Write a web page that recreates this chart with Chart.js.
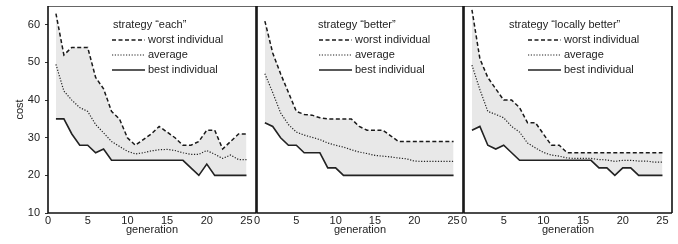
<!DOCTYPE html>
<html>
<head>
<meta charset="utf-8">
<script src="https://cdn.jsdelivr.net/npm/chart.js@4/dist/chart.umd.min.js"></script>
<style>
  html, body { margin: 0; padding: 0; background: #fff; }
  #wrap { position: relative; width: 678px; height: 244px; overflow: hidden; }
  canvas { position: absolute; top: 0; }
</style>
</head>
<body>
<div id="wrap">
  <canvas id="c1" width="262" height="244" style="left:0px"></canvas>
  <canvas id="c2" width="224" height="244" style="left:246px"></canvas>
  <canvas id="c3" width="225" height="244" style="left:453px"></canvas>
</div>
<script>
// data
const generations = [1, 2, 3, 4, 5, 6, 7, 8, 9, 10, 11, 12, 13, 14, 15, 16, 17, 18, 19, 20, 21, 22, 23, 24, 25];
const xTicks = [0, 5, 10, 15, 20, 25];
const yTicks = [10, 20, 30, 40, 50, 60];
const seriesNames = ['worst individual', 'average', 'best individual'];
const strategies = ['strategy \u201ceach\u201d', 'strategy \u201cbetter\u201d', 'strategy \u201clocally better\u201d'];

const eachWorst = [63, 52, 54, 54, 54, 46, 43, 37, 35, 30, 28, 29.5, 31, 33, 31.5, 30, 28, 28, 29, 32, 32, 27, 29, 31, 31];
const eachAvg = [49.5, 42.4, 40, 38, 37, 33.5, 31.3, 29, 27.7, 26.4, 25.7, 26, 26.5, 26.8, 26.9, 26.6, 26, 25.6, 25.6, 26.6, 25.6, 24.5, 25.4, 24.2, 24.2];
const eachBest = [35, 35, 31, 28, 28, 26, 27, 24, 24, 24, 24, 24, 24, 24, 24, 24, 24, 22, 20, 23, 20, 20, 20, 20, 20];

const betterWorst = [61, 52.5, 47, 42, 37, 36.2, 36, 35.3, 35, 35, 35, 35, 33, 32, 32, 32, 30.5, 29, 29, 29, 29, 29, 29, 29, 29];
const betterAvg = [47, 42, 36.6, 33.5, 31.5, 30.7, 30.1, 29.5, 28.6, 28, 27.5, 26.8, 26.2, 25.8, 25.3, 25.1, 24.9, 24.6, 24.4, 23.8, 23.7, 23.7, 23.7, 23.7, 23.7];
const betterBest = [34, 33, 30, 28, 28, 26, 26, 26, 22, 22, 20, 20, 20, 20, 20, 20, 20, 20, 20, 20, 20, 20, 20, 20, 20];

const localWorst = [64, 51, 46, 43, 40, 40, 38, 34, 34, 31, 28, 28, 26, 26, 26, 26, 26, 26, 26, 26, 26, 26, 26, 26, 26];
const localAvg = [49.3, 42.8, 37, 36.2, 35.3, 33, 31.5, 28.6, 27.3, 26.1, 25.4, 25.1, 24.6, 24.5, 24.5, 24.5, 24.2, 24.1, 23.7, 24, 24, 23.8, 23.8, 23.5, 23.5];
const localBest = [32, 33, 28, 27, 28, 26, 24, 24, 24, 24, 24, 24, 24, 24, 24, 24, 22, 22, 20, 22, 22, 20, 20, 20, 20];

Chart.defaults.font.family = '"Liberation Sans", Arial, sans-serif';
Chart.defaults.font.size = 11;
Chart.defaults.color = '#222';

const FONT = '11px "Liberation Sans", Arial, sans-serif';

// box round each panel
const panelFrame = {
  id: 'panelFrame',
  afterDraw(chart) {
    const { ctx, chartArea: a } = chart;
    ctx.save();
    ctx.strokeStyle = '#666';
    ctx.lineWidth = 1;
    ctx.beginPath();
    ctx.moveTo(a.left, a.top + 0.5);
    ctx.lineTo(a.right, a.top + 0.5);
    ctx.stroke();
    ctx.strokeStyle = '#111';
    ctx.lineWidth = 1.6;
    ctx.beginPath();
    ctx.moveTo(a.left, a.top);
    ctx.lineTo(a.left, a.bottom);
    ctx.lineTo(a.right, a.bottom);
    ctx.stroke();
    ctx.beginPath();
    ctx.moveTo(a.right, a.top);
    ctx.lineTo(a.right, a.bottom);
    ctx.stroke();
    ctx.restore();
  }
};

// legend drawn inside the plot, title + three line samples
const panelLegend = {
  id: 'panelLegend',
  afterDraw(chart, args, opts) {
    const { ctx, chartArea: a } = chart;
    ctx.save();
    ctx.font = FONT;
    ctx.fillStyle = '#222';
    ctx.textBaseline = 'middle';
    ctx.fillText(opts.title, a.left + opts.titleX, 25);
    chart.data.datasets.forEach((ds, i) => {
      const y = 40 + i * 15;
      const x0 = a.left + opts.lineX;
      ctx.strokeStyle = ds.borderColor;
      ctx.lineWidth = ds.borderWidth;
      ctx.setLineDash(ds.borderDash || []);
      ctx.beginPath();
      ctx.moveTo(x0, y);
      ctx.lineTo(x0 + 33, y);
      ctx.stroke();
      ctx.setLineDash([]);
      ctx.fillText(ds.label, x0 + 36, y);
    });
    ctx.restore();
  }
};

function points(values) {
  return generations.map((g, i) => ({ x: g, y: values[i] }));
}

function makePanel(id, idx, worst, avg, best, showY, padding, legendPos) {
  return new Chart(document.getElementById(id), {
    type: 'line',
    data: {
      datasets: [
        {
          label: seriesNames[0],
          data: points(worst),
          borderColor: '#1a1a1a',
          borderWidth: 1.5,
          borderDash: [4, 2.5],
          backgroundColor: '#e8e8e8',
          fill: '+2'
        },
        {
          label: seriesNames[1],
          data: points(avg),
          borderColor: '#222',
          borderWidth: 1.2,
          borderDash: [1.2, 1.6],
          fill: false
        },
        {
          label: seriesNames[2],
          data: points(best),
          borderColor: '#222',
          borderWidth: 1.6,
          fill: false
        }
      ]
    },
    options: {
      responsive: false,
      animation: false,
      devicePixelRatio: 1,
      layout: { padding: padding },
      elements: { point: { radius: 0 }, line: { tension: 0 } },
      plugins: {
        legend: { display: false },
        tooltip: { enabled: false },
        filler: { drawTime: 'beforeDatasetsDraw' },
        panelLegend: { title: strategies[idx], titleX: legendPos[0], lineX: legendPos[1] }
      },
      scales: {
        x: {
          type: 'linear',
          min: 0,
          max: 26.2,
          afterBuildTicks: s => { s.ticks = xTicks.map(v => ({ value: v })); },
          afterFit: s => { s.height = 31; s.paddingLeft = 0; s.paddingRight = 0; },
          grid: { display: false, drawTicks: false },
          border: { display: false },
          ticks: { padding: 1, maxRotation: 0, autoSkip: false, color: '#222' },
          title: { display: true, text: 'generation', color: '#222', padding: { top: 0, bottom: 7 } }
        },
        y: {
          display: showY,
          min: 10,
          max: 65,
          afterBuildTicks: s => { s.ticks = yTicks.map(v => ({ value: v })); },
          afterFit: s => { s.width = showY ? 48 : 0; s.paddingTop = 0; s.paddingBottom = 0; },
          grid: { display: true, drawOnChartArea: false, drawTicks: true, tickLength: 3, color: '#333' },
          border: { display: false },
          ticks: { padding: 5, color: '#222' },
          title: { display: true, text: 'cost', color: '#222', padding: { top: 13, bottom: 0 } }
        }
      }
    },
    plugins: [panelFrame, panelLegend]
  });
}

makePanel('c1', 0, eachWorst, eachAvg, eachBest, true, { top: 6, right: 6, bottom: 0, left: 0 }, [65, 64]);
makePanel('c2', 1, betterWorst, betterAvg, betterBest, false, { top: 6, right: 7, bottom: 0, left: 11 }, [61, 62]);
makePanel('c3', 2, localWorst, localAvg, localBest, false, { top: 6, right: 6, bottom: 0, left: 11 }, [45, 64]);
</script>
</body>
</html>
